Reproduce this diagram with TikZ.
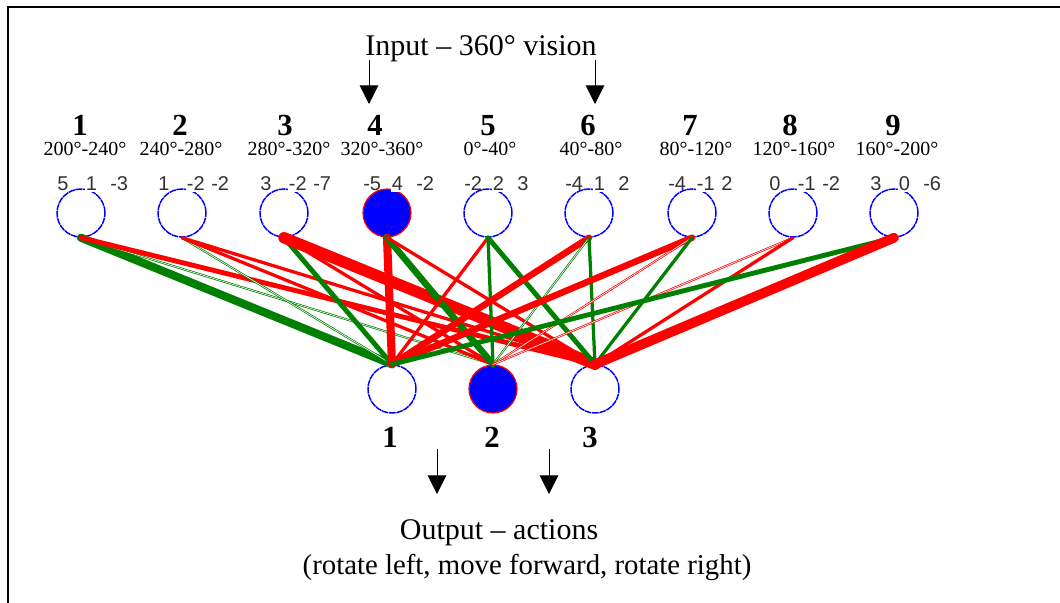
\documentclass[tikz,border=0pt]{standalone}
\usepackage{fontspec}
\setmainfont{Liberation Serif}
\newfontfamily\wfont{Liberation Sans}
\usetikzlibrary{arrows.meta}
\definecolor{wgreen}{RGB}{0,128,0}
\definecolor{wred}{RGB}{255,0,0}
\definecolor{nblue}{RGB}{0,0,255}
\newcommand\conn[3]{%
  \ifnum#3=0\relax\else
    \ifnum#3>0 \def\cc{wgreen}\else\def\cc{wred}\fi
    \ifnum#3=1 \def\thinw{1}\else\ifnum#3=-1 \def\thinw{1}\else\def\thinw{0}\fi\fi
    \ifnum\thinw=1
      \draw[color=\cc,line width=0.55pt,double=white,double distance=0.45pt,line cap=round] (in#1.south) -- (out#2.north);
    \else
      \pgfmathsetmacro\ww{abs(#3)*1.22}%
      \draw[color=\cc,line width=\ww pt,line cap=round] (in#1.south) -- (out#2.north);
    \fi
  \fi}
\tikzset{
  neuron/.style={circle,draw=nblue,line width=1.1pt,minimum size=36pt,inner sep=0pt,dash pattern=on 5pt off 0.5pt},
  active/.style={circle,draw=wred,fill=nblue,line width=0.9pt,minimum size=36pt,inner sep=0pt},
  bignum/.style={font=\fontsize{23}{23}\selectfont\bfseries,anchor=base,inner sep=0pt},
  deg/.style={font=\fontsize{15}{15}\selectfont,anchor=base,inner sep=0pt},
  wt/.style={font=\wfont\fontsize{15}{15}\selectfont,text=black!80,anchor=base west,inner sep=0pt},
  wtmid/.style={wt,fill=white,inner xsep=0.5pt,inner ysep=1.5pt},
  caption/.style={font=\fontsize{22.5}{22.5}\selectfont,anchor=base,inner sep=0pt},
  arr/.style={line width=0.75pt,-{Triangle[width=14pt,length=14pt]}},
}
\begin{document}
\begin{tikzpicture}[x=0.75pt,y=-0.75pt]
\useasboundingbox (0,0) rectangle (1060,603);
\fill[white] (0,0) rectangle (1060,603);
% frame
\draw[line width=1.2pt] (8,603) -- (8,7) -- (1060,7);
% title and arrows
\node[caption] (title) at (481,55) {Input – 360° vision};
\coordinate (ia1) at (369,60); \coordinate (ib1) at (369,104);
\coordinate (ia2) at (595,60); \coordinate (ib2) at (595,104);
\draw[arr] (ia1) -- (ib1);
\draw[arr] (ia2) -- (ib2);
% input neurons
\foreach \i/\x in {1/81,2/182,3/284,5/488,6/589,7/692,8/793,9/894}{
  \node[neuron] (in\i) at (\x,213) {};
}
\node[active] (in4) at (387,213) {};
\foreach \i/\x/\nx/\dx/\lab/\a/\b/\c in {
  1/81/80/85/200°-240°/5/1/-3,
  2/182/180/181/240°-280°/1/-2/-2,
  3/284/285/289/280°-320°/3/-2/-7,
  4/387/375/382/320°-360°/-5/4/-2,
  5/488/488/490/0°-40°/-2/2/3,
  6/589/588/591/40°-80°/-4/1/2,
  7/692/690/696/80°-120°/-4/-1/2,
  8/793/790/794/120°-160°/0/-1/-2,
  9/894/893/897/160°-200°/3/0/-6}{
  \node[bignum] (num\i) at (\nx,135) {\i};
  \node[deg] (deg\i) at (\dx,155) {\lab};
  \node[wt] (wa\i) at (\x-24,190) {\a};
  \node[wtmid] (wb\i) at (\x+4,190) {\b};
  \node[wt] (wc\i) at (\x+29,190) {\c};
}
% output neurons
\node[neuron] (out1) at (392,389) {};
\node[active] (out2) at (493,389) {};
\node[neuron] (out3) at (595,389) {};
% connections
\conn{1}{1}{5}\conn{1}{2}{1}\conn{1}{3}{-3}
\conn{2}{1}{1}\conn{2}{2}{-2}\conn{2}{3}{-2}
\conn{3}{1}{3}\conn{3}{2}{-2}\conn{3}{3}{-7}
\conn{4}{1}{-5}\conn{4}{2}{4}\conn{4}{3}{-2}
\conn{5}{1}{-2}\conn{5}{2}{2}\conn{5}{3}{3}
\conn{6}{1}{-4}\conn{6}{2}{1}\conn{6}{3}{2}
\conn{7}{1}{-4}\conn{7}{2}{-1}\conn{7}{3}{2}
\conn{8}{1}{0}\conn{8}{2}{-1}\conn{8}{3}{-2}
\conn{9}{1}{3}\conn{9}{2}{0}\conn{9}{3}{-6}
% output labels
\node[bignum] (onum1) at (390,447) {1};
\node[bignum] (onum2) at (492,447) {2};
\node[bignum] (onum3) at (590,447) {3};
\coordinate (oa1) at (437,449); \coordinate (ob1) at (437,494);
\coordinate (oa2) at (549,449); \coordinate (ob2) at (549,494);
\draw[arr] (oa1) -- (ob1);
\draw[arr] (oa2) -- (ob2);
\node[caption] (out) at (499,539) {Output – actions};
\node[caption,font=\fontsize{21.6}{21.6}\selectfont] (acts) at (527,574) {(rotate left, move forward, rotate right)};
\end{tikzpicture}
\end{document}
